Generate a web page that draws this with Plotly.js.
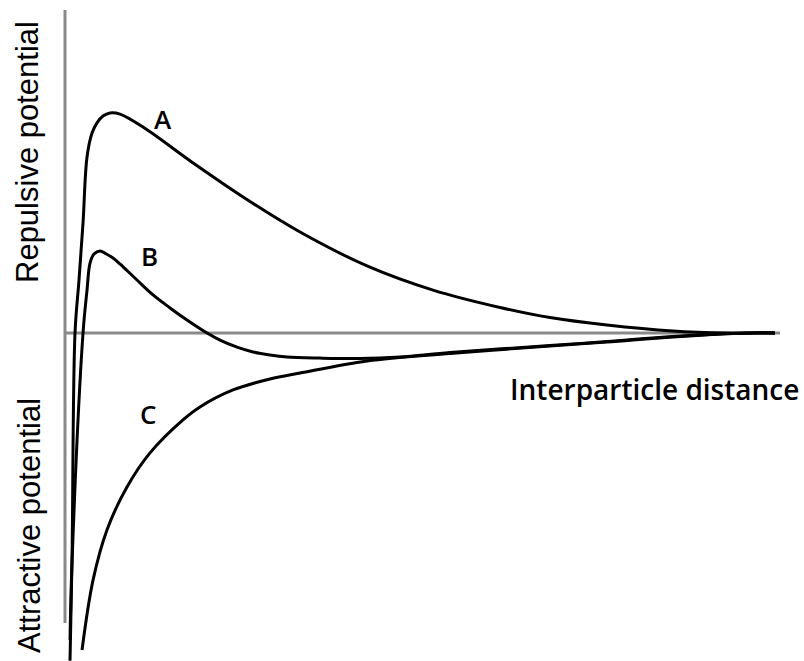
<!DOCTYPE html>
<html>
<head>
<meta charset="utf-8">
<script src="https://cdn.plot.ly/plotly-3.0.1.min.js"></script>
<style>html,body{margin:0;padding:0;background:#fff;}#chart{width:804px;height:661px;}</style>
</head>
<body>
<div id="chart"></div>
<script>
// Interparticle distance (arbitrary units) and potential energy (arbitrary units)
const curveA_x = [0.70, 0.98, 1.40, 1.96, 2.52, 3.08, 3.78, 4.48, 5.31, 6.29, 7.69, 10.91, 17.90, 24.90, 32.87, 42.24, 51.47, 60.84, 67.83, 75.80, 85.03, 92.59, 99.30];
const curveA_y = [-149, -103.2, 0, 24.1, 50, 80, 90.9, 95.5, 98.6, 100, 99.5, 93.6, 77.3, 61.8, 45.9, 30.5, 19.5, 11.6, 7.0, 3.6, 0.9, 0, 0];

const curveB_x = [0.70, 0.98, 2.52, 3.08, 3.50, 4.06, 4.90, 5.73, 6.71, 7.69, 8.67, 10.07, 12.31, 14.69, 17.06, 19.86, 21.68, 24.06, 26.29, 28.67, 31.05, 35.66, 41.26, 46.85, 53.85, 67.83, 75.80, 85.03, 95.38, 99.30];
const curveB_y = [-139.5, -104.5, 0, 19.5, 31.8, 35.9, 37.3, 36.0, 34.1, 31.4, 28.4, 24.1, 17.3, 11.4, 5.9, 0, -3.2, -6.4, -8.6, -10.0, -10.9, -11.4, -11.6, -10.9, -8.9, -5.7, -3.9, -1.6, 0, 0];

const curveC_x = [2.38, 3.92, 5.87, 8.67, 11.89, 16.50, 18.88, 23.50, 28.67, 32.87, 42.24, 53.85, 67.83, 75.80, 85.03, 95.38, 99.30];
const curveC_y = [-144.1, -112.3, -89.5, -70, -54.5, -39.5, -33.6, -25.9, -20.9, -18.2, -12.7, -9.3, -5.9, -4.1, -1.8, 0, 0];

const curveLabels = ["A", "B", "C"];
const xAxisLabel = "Interparticle distance";
const yUpperLabel = "Repulsive potential";
const yLowerLabel = "Attractive potential";

const lineStyle = {color: "#000", width: 3, shape: "spline", smoothing: 1};
const traces = [
  {x: curveA_x, y: curveA_y, name: curveLabels[0]},
  {x: curveB_x, y: curveB_y, name: curveLabels[1]},
  {x: curveC_x, y: curveC_y, name: curveLabels[2]}
].map(t => Object.assign(t, {type: "scatter", mode: "lines", line: lineStyle, hoverinfo: "skip"}));

const W = 804, H = 661;
const px = v => v / W, py = v => 1 - v / H;
const letterFont = {family: "'Open Sans', sans-serif", size: 26, color: "#000", weight: 600};
const sideFont = {family: "'Liberation Sans', Arial, sans-serif", size: 31, color: "#000"};

const layout = {
  width: W, height: H,
  margin: {l: 0, r: 0, t: 0, b: 0},
  paper_bgcolor: "#fff", plot_bgcolor: "#fff",
  showlegend: false,
  xaxis: {range: [-9.091, 103.357], visible: false, fixedrange: true},
  yaxis: {range: [-149.09, 151.36], visible: false, fixedrange: true},
  shapes: [
    {type: "line", xref: "x", yref: "y", x0: 0, x1: 0, y0: -131.8, y1: 146.8, line: {color: "#8a8a8a", width: 3}, layer: "below"},
    {type: "line", xref: "x", yref: "y", x0: 0, x1: 100, y0: 0, y1: 0, line: {color: "#8a8a8a", width: 3}, layer: "below"}
  ],
  annotations: [
    {text: curveLabels[0], x: px(163), y: py(119), xref: "paper", yref: "paper", showarrow: false, font: letterFont, xanchor: "center", yanchor: "middle"},
    {text: curveLabels[1], x: px(149), y: py(256), xref: "paper", yref: "paper", showarrow: false, font: letterFont, xanchor: "center", yanchor: "middle"},
    {text: curveLabels[2], x: px(148), y: py(414), xref: "paper", yref: "paper", showarrow: false, font: letterFont, xanchor: "center", yanchor: "middle"},
    {text: xAxisLabel, x: px(654), y: py(389), xref: "paper", yref: "paper", showarrow: false, font: Object.assign({}, letterFont, {size: 28}), xanchor: "center", yanchor: "middle"},
    {text: yUpperLabel, x: px(27), y: py(152), xref: "paper", yref: "paper", showarrow: false, font: sideFont, textangle: -90, xanchor: "center", yanchor: "middle"},
    {text: yLowerLabel, x: px(29), y: py(526), xref: "paper", yref: "paper", showarrow: false, font: sideFont, textangle: -90, xanchor: "center", yanchor: "middle"}
  ]
};

Plotly.newPlot("chart", traces, layout, {staticPlot: true, displayModeBar: false});
</script>
</body>
</html>
